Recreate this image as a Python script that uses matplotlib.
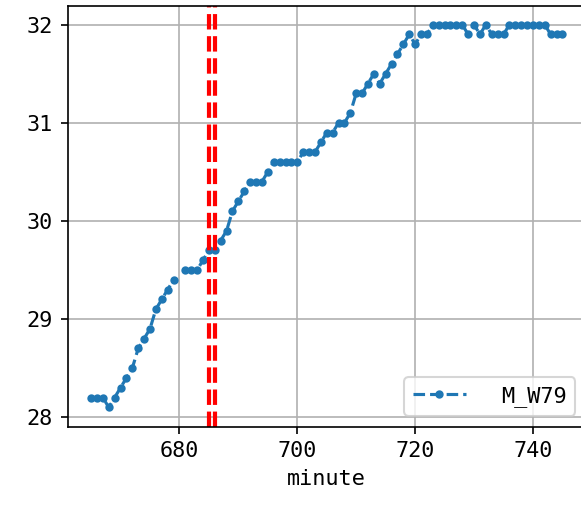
import numpy as np
import matplotlib
matplotlib.use("Agg")
import matplotlib.pyplot as plt

plt.rcParams['font.family'] = ['DejaVu Sans Mono']
plt.rcParams['font.size'] = 10.5

# minute index and the M_W79 reading (680 missing)
minutes = list(range(665, 746))
m_w79 = [
    28.2, 28.2, 28.2, 28.1, 28.2, 28.3, 28.4, 28.5, 28.7, 28.8,   # 665-674
    28.9, 29.1, 29.2, 29.3, 29.4, np.nan, 29.5, 29.5, 29.5, 29.6,  # 675-684
    29.7, 29.7, 29.8, 29.9, 30.1, 30.2, 30.3, 30.4, 30.4, 30.4,   # 685-694
    30.5, 30.6, 30.6, 30.6, 30.6, 30.6, 30.7, 30.7, 30.7, 30.8,   # 695-704
    30.9, 30.9, 31.0, 31.0, 31.1, 31.3, 31.3, 31.4, 31.5, 31.4,   # 705-714
    31.5, 31.6, 31.7, 31.8, 31.9, 31.8, 31.9, 31.9, 32.0, 32.0,   # 715-724
    32.0, 32.0, 32.0, 32.0, 31.9, 32.0, 31.9, 32.0, 31.9, 31.9,   # 725-734
    31.9, 32.0, 32.0, 32.0, 32.0, 32.0, 32.0, 32.0, 31.9, 31.9,   # 735-744
    31.9,                                                         # 745
]
event_minutes = [685, 686]

fig = plt.figure(figsize=(581 / 150, 505 / 150), dpi=150)
# right edge of the axes sits just past the canvas, as in the original crop
ax = fig.add_axes([67.5 / 581, 78.5 / 505, 518.5 / 581, 421 / 505])

ax.plot(minutes, m_w79, "--", marker=".", color="#1f77b4", label="M_W79")
for m in event_minutes:
    ax.axvline(m, color="red", linestyle="--", linewidth=2)

ax.set_xticks([680, 700, 720, 740])
ax.set_yticks([28, 29, 30, 31, 32])
ax.grid(True)
ax.set_xlabel("minute")
ax.legend(loc="lower right", handlelength=2.4, handletextpad=1.6)

fig.savefig("out.png", dpi=150)
plt.close(fig)
